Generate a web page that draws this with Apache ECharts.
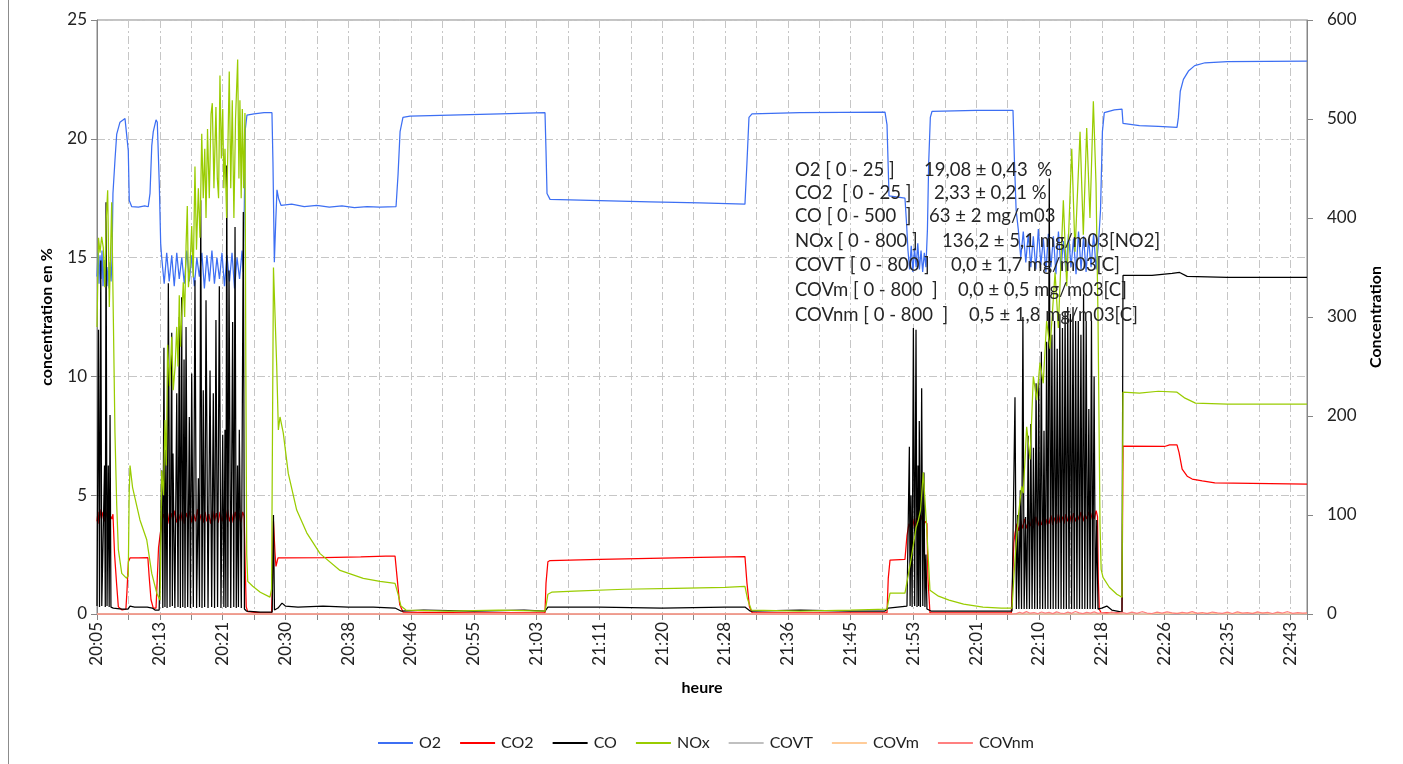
<!DOCTYPE html>
<html>
<head>
<meta charset="utf-8">
<script src="https://cdn.jsdelivr.net/npm/echarts@6/dist/echarts.min.js"></script>
<style>
  html, body { margin: 0; padding: 0; background: #ffffff; }
  #chart { width: 1403px; height: 764px; }
</style>
</head>
<body>
<div id="chart"></div>
<script>
// Time axis: seconds after 20:05:00 (one sample every 10 s); a label every 500 s
const timeLabels = ['20:05','20:13','20:21','20:30','20:38','20:46','20:55','21:03','21:11','21:20',
                    '21:28','21:36','21:45','21:53','22:01','22:10','22:18','22:26','22:35','22:43'];
const seriesNames = ['O2', 'CO2', 'CO', 'NOx', 'COVT', 'COVm', 'COVnm'];

// O2 in % (left axis)
const o2 = [
  [0,14.2],[8,15.2],[16,13.9],[24,15.1],[32,14.1],[40,15.3],[48,13.8],[56,14.9],[64,14.2],[72,15.1],[80,13.8],[88,14.6],[96,13.7],[104,14.8],[112,14.0],[120,15.0],
  [127,17.7],[143,19.1],[157,20.2],[183,20.7],[223,20.85],[236,20.8],[249,19.5],[257,17.4],[276,17.15],[330,17.12],[380,17.18],[408,17.14],[422,17.7],[436,19.7],[448,20.3],[470,20.8],[480,20.7],[496,18.1],[507,15.6],
  [515,15.0],[535,13.9],[555,15.2],[575,14.0],[595,15.1],[615,13.8],[635,15.2],[655,14.1],[675,15.0],[695,13.9],[715,15.3],[735,14.0],[755,15.1],[775,13.8],[795,15.0],[815,14.2],[835,15.2],[855,13.7],[875,15.1],[895,14.0],[915,15.3],[935,13.9],[955,15.0],[975,14.1],[995,15.2],[1015,13.8],[1035,15.1],[1055,14.0],[1075,15.2],[1095,13.7],[1115,15.0],[1135,14.1],[1155,15.3],[1165,14.4],
  [1173,17.2],[1181,20.4],[1194,21.0],[1250,21.05],[1330,21.1],[1393,21.1],[1401,19.0],[1412,14.8],[1423,16.5],[1433,17.85],[1445,17.5],[1465,17.2],[1550,17.25],[1650,17.15],[1750,17.2],[1850,17.12],[1950,17.18],[2050,17.1],[2150,17.15],[2250,17.12],[2381,17.15],
  [2397,18.5],[2413,20.3],[2436,20.9],[2492,20.95],[2811,21.0],[3209,21.05],[3567,21.1],[3575,19.5],[3583,17.7],[3607,17.45],[4005,17.4],[4403,17.35],[4801,17.3],[5159,17.25],[5175,19.0],[5191,20.9],[5215,21.05],[5597,21.1],[6274,21.12],
  [6290,20.6],[6306,17.6],[6433,17.5],[6445,16.5],[6457,15.3],[6470,14.5],[6483,15.5],[6496,14.4],[6509,15.4],[6522,14.6],[6535,15.6],[6548,14.5],[6561,15.3],[6574,14.4],[6587,15.2],[6600,14.6],[6612,16.2],[6622,19.0],[6635,20.9],[6648,21.15],[7000,21.2],[7293,21.2],
  [7305,19.0],[7318,17.0],[7335,16.2],[7355,15.0],[7375,16.1],[7395,14.8],[7415,16.0],[7435,14.6],[7455,15.9],[7475,14.5],[7495,16.2],[7515,14.7],[7535,15.8],[7555,14.4],[7575,16.0],[7595,14.6],[7615,15.9],[7635,14.3],[7655,16.1],[7675,14.5],[7695,15.7],[7715,14.4],[7735,16.0],[7755,14.6],[7775,15.8],[7795,14.3],[7815,16.1],[7835,14.5],[7855,15.9],[7875,14.4],[7895,15.8],[7915,14.6],[7935,16.0],[7955,14.5],[7975,15.7],
  [7990,17.0],[8005,20.3],[8020,21.1],[8100,21.22],[8161,21.25],[8169,20.65],[8300,20.55],[8450,20.52],[8599,20.48],[8610,20.9],[8625,22.0],[8650,22.5],[8690,22.85],[8740,23.08],[8822,23.2],[9000,23.25],[9634,23.27]
];

// CO2 in % (left axis)
const co2 = [
  [0,3.9],[8,4.3],[16,3.8],[24,4.4],[36,4.0],[48,4.3],[60,3.9],[72,4.1],[85,4.46],[98,3.9],[110,4.1],[119,4.0],[127,4.2],[140,2.5],[157,1.2],[170,0.3],[200,0.17],[230,0.2],
  [238,0.9],[250,2.2],[263,2.36],[330,2.36],[405,2.37],[415,1.6],[430,0.6],[448,0.25],[470,0.25],[480,1.5],[490,2.8],[502,3.3],[515,3.8],
  [530,4.2],[545,3.9],[560,4.3],[575,3.8],[590,4.25],[605,3.9],[620,4.35],[635,3.85],[650,4.2],[665,3.9],[680,4.3],[695,3.8],[710,4.25],[725,3.95],[740,4.35],[755,3.85],[770,4.2],[785,3.9],[800,4.4],[815,3.9],[830,4.2],[845,3.85],[860,4.3],[875,3.9],[890,4.2],[905,3.8],[920,4.35],[935,3.9],[950,4.25],[965,3.85],[980,4.3],[995,3.9],[1010,4.2],[1025,3.95],[1040,4.4],[1055,3.9],[1070,4.25],[1085,3.85],[1100,4.3],[1115,3.9],[1130,4.25],[1145,3.85],[1160,4.3],[1172,4.1],
  [1180,2.0],[1188,0.3],[1200,0.1],[1300,0.05],[1390,0.05],[1398,1.5],[1405,3.9],[1417,2.6],[1425,2.0],[1441,2.36],[1473,2.36],[1800,2.37],[2100,2.4],[2300,2.44],[2373,2.44],[2390,1.5],[2410,0.4],[2436,0.08],[3000,0.05],[3567,0.05],
  [3575,1.3],[3590,2.2],[3607,2.25],[4005,2.3],[4800,2.38],[5159,2.42],[5175,1.3],[5195,0.3],[5215,0.06],[6290,0.05],[6300,1.5],[6314,2.27],[6433,2.3],
  [6449,3.3],[6465,3.8],[6480,3.6],[6495,4.0],[6510,3.6],[6525,4.05],[6540,3.7],[6555,3.9],[6566,4.14],[6580,3.7],[6595,3.9],[6608,3.8],[6616,1.5],[6632,0.05],[7280,0.05],
  [7290,1.5],[7300,3.0],[7309,3.4],[7325,3.8],[7340,3.5],[7355,3.9],[7370,3.6],[7385,4.0],[7400,3.6],[7415,3.9],[7430,3.7],[7445,4.0],[7460,3.6],[7475,4.1],[7490,3.7],[7505,3.95],[7520,3.75],[7535,4.1],[7550,3.7],[7565,4.0],[7580,3.8],[7595,4.15],[7610,3.75],[7625,4.05],[7640,3.8],[7655,4.2],[7670,3.85],[7685,4.1],[7700,3.8],[7715,4.2],[7730,3.9],[7745,4.15],[7760,3.85],[7775,4.25],[7790,3.9],[7805,4.2],[7820,3.95],[7835,4.3],[7850,3.9],[7865,4.2],[7880,4.0],[7895,4.3],[7910,3.95],[7925,4.25],[7940,4.0],[7955,4.35],[7966,4.1],
  [7972,1.5],[7980,0.2],[7995,0.05],[8161,0.05],[8169,7.07],[8500,7.05],[8540,7.12],[8599,7.12],[8615,6.8],[8640,6.1],[8680,5.8],[8720,5.68],[8800,5.6],[8900,5.52],[9634,5.47]
];

// CO in mg/m03 (right axis)
const co = [
  [0,8],[12,287],[20,7],[30,357],[38,8],[50,6],[60,150],[66,7],[72,416],[80,8],[90,150],[97,7],[104,201],[111,7],[130,6],[200,5],[247,5],[263,8],[300,7],[400,7],[440,6],[462,4],[495,4],[507,6],
  [515,145],[524,6],[533,269],[541,7],[549,166],[558,6],[568,334],[581,7],[595,284],[600,8],[605,162],[620,6],[635,223],[645,7],[655,300],[664,6],[674,320],[683,7],[693,257],[701,6],[709,290],[722,7],[735,199],[744,6],[754,243],[767,7],[780,337],[793,6],[807,137],[816,7],[826,418],[836,6],[846,226],[857,7],[868,317],[884,6],[900,246],[913,7],[926,223],[936,6],[947,297],[960,7],[974,331],[987,6],[1001,181],[1010,7],[1019,186],[1026,6],[1033,453],[1042,7],[1051,347],[1065,6],[1080,295],[1089,7],[1099,391],[1109,6],[1119,150],[1126,7],[1133,186],[1149,6],[1165,406],[1174,5],
  [1190,3],[1300,2],[1395,2],[1405,100],[1413,4],[1441,6],[1473,11],[1500,8],[1600,7],[1800,8],[2000,7],[2200,7],[2373,6],[2420,3],[2600,4],[3000,3],[3400,4],[3567,3],[3590,7],[4000,7],[4500,6],[5000,7],[5159,7],[5200,3],[5600,4],[6000,3],[6274,3],[6300,6],[6449,8],
  [6468,169],[6474,8],[6481,120],[6490,7],[6500,289],[6510,8],[6521,287],[6529,7],[6537,150],[6542,8],[6547,195],[6556,7],[6566,228],[6575,8],[6584,143],[6592,7],[6600,60],[6608,5],[6640,3],[7000,3],[7285,3],
  [7309,219],[7320,5],[7330,100],[7340,5],[7351,125],[7361,5],[7372,300],[7382,5],[7393,98],[7403,5],[7414,180],[7424,5],[7435,192],[7445,5],[7456,168],[7466,5],[7477,233],[7487,5],[7498,237],[7508,5],[7519,265],[7529,5],[7540,185],[7550,5],[7561,275],[7571,5],[7582,440],[7592,5],[7603,282],[7613,5],[7624,296],[7634,5],[7645,268],[7655,5],[7666,303],[7676,5],[7687,289],[7697,5],[7708,306],[7718,5],[7729,310],[7739,5],[7750,303],[7760,5],[7771,310],[7781,5],[7792,296],[7802,5],[7813,296],[7823,5],[7834,282],[7844,5],[7855,323],[7865,5],[7876,296],[7886,5],[7897,207],[7907,5],[7918,296],[7928,5],[7939,240],[7949,5],[7960,95],[7970,5],
  [8000,6],[8040,8],[8080,4],[8161,2],[8169,342],[8400,342],[8560,344],[8620,345],[8680,341],[9000,340],[9634,340]
];

// NOx in mg/m03 [NO2] (right axis)
const nox = [
  [0,290],[12,380],[24,365],[37,381],[50,370],[62,330],[72,395],[85,428],[98,310],[117,416],[130,300],[143,183],[157,110],[170,65],[197,41],[236,36],[249,40],[256,120],[263,150],[283,128],[342,95],[396,75],[436,41],[476,21],[502,14],
  [515,145],[530,120],[541,196],[552,150],[562,272],[578,230],[595,280],[607,226],[622,250],[635,290],[645,250],[655,322],[665,270],[674,300],[687,335],[698,300],[709,372],[719,412],[728,330],[740,350],[754,392],[766,340],[780,452],[792,368],[807,430],[820,380],[834,485],[846,420],[858,470],[868,400],[880,490],[894,420],[908,505],[918,516],[931,430],[947,512],[958,440],[968,420],[979,544],[990,460],[1001,510],[1010,430],[1019,470],[1032,400],[1053,548],[1065,430],[1077,519],[1090,400],[1103,500],[1120,560],[1130,440],[1138,519],[1148,420],[1157,510],[1167,430],[1178,506],
  [1185,250],[1192,60],[1200,33],[1240,28],[1300,22],[1377,17],[1390,25],[1398,200],[1405,350],[1418,300],[1431,250],[1444,186],[1457,199],[1483,183],[1523,142],[1590,105],[1670,82],[1776,61],[1935,44],[2120,36],[2253,33],[2373,31],[2397,20],[2420,8],[2460,4],[2800,3],[3200,4],[3567,3],
  [3575,8],[3590,20],[3620,22],[3800,23],[4200,25],[4600,26],[5000,27],[5159,28],[5180,15],[5210,4],[5600,3],[6000,4],[6290,5],[6300,12],[6314,21],[6433,21],
  [6460,40],[6481,55],[6500,70],[6521,87],[6540,95],[6557,105],[6579,143],[6590,120],[6606,87],[6632,24],[6700,18],[6784,14],[6900,10],[7054,7],[7200,6],[7285,6],
  [7309,55],[7335,98],[7362,129],[7375,122],[7402,189],[7429,156],[7455,240],[7482,216],[7508,254],[7534,233],[7561,296],[7588,268],[7628,345],[7654,289],[7694,418],[7721,331],[7761,470],[7787,366],[7827,487],[7853,383],[7880,491],[7906,400],[7933,518],[7954,435],[7970,300],
  [7986,90],[7995,45],[8010,37],[8060,27],[8120,20],[8161,17],[8169,224],[8300,223],[8450,225],[8599,224],[8663,218],[8746,213],[9000,212],[9634,212]
];

// Volatile organic compounds in mg/m03[C] (right axis)
const covt = [[0,0],[9634,0]];
const covm = [[0,0],[8400,0],[8450,0.8],[8480,0.2],[8600,1.0],[8640,0.3],[8900,0.9],[8940,0.1],[9300,1.1],[9340,0.2],[9634,0.4]];
const covnm = [
  [0,0],[7290,0],[7300,1.2],[7320,0.4],[7345,1.8],[7370,0.6],[7400,2.4],[7430,0.8],[7460,1.5],[7490,0.3],[7520,2.0],[7550,0.9],[7580,1.6],[7610,0.4],[7640,2.2],[7670,1.0],[7700,0.5],[7730,1.9],[7760,0.7],[7790,2.5],[7820,1.1],[7850,0.3],[7880,1.7],[7910,0.8],[7940,2.1],[7970,0.6],
  [8000,1.4],[8040,0.5],[8080,2.0],[8120,0.9],[8160,1.6],[8200,0.4],[8240,1.8],[8280,0.7],[8320,2.3],[8360,1.0],[8400,0.5],[8440,1.9],[8480,0.8],[8520,2.2],[8560,1.2],[8600,0.4],[8640,1.7],[8680,0.9],[8720,2.4],[8760,0.6],[8800,1.5],[8840,0.3],[8880,2.0],[8920,1.1],[8960,0.7],
  [9000,1.8],[9040,0.5],[9080,2.1],[9120,0.9],[9160,1.4],[9200,0.4],[9240,2.2],[9280,0.8],[9320,1.6],[9360,0.5],[9400,1.9],[9440,1.0],[9480,2.3],[9520,0.6],[9560,1.5],[9600,0.8],[9634,1.2]
];

// Measurement summary printed inside the plot
const statLabels = ['O2 [ 0 - 25 ]', 'CO2  [ 0 - 25 ]', 'CO [ 0 - 500  ]', 'NOx [ 0 - 800 ]',
                    'COVT [ 0 - 800 ]', 'COVm [ 0 - 800  ]', 'COVnm [ 0 - 800  ]'];
const statValues = ['19,08 ± 0,43  %', '2,33 ± 0,21 %', '63 ± 2 mg/m03', '136,2 ± 5,1 mg/m03[NO2]',
                    '0,0 ± 1,7 mg/m03[C]', '0,0 ± 0,5 mg/m03[C]', '0,5 ± 1,8 mg/m03[C]'];

// ---- presentation ----
const FONT = 'Lato, "Open Sans", sans-serif';
const TEXT = '#222222';
const AXIS = '#868686';
const GRID_DASH = [8, 3, 2, 3];
const colors = ['#3d6ff3', '#ff0000', '#000000', '#99cc00', '#c0c0c0', '#ffcc99', '#ff8080'];
const seriesData = [o2, co2, co, nox, covt, covm, covnm];
const seriesAxis = [0, 0, 1, 1, 1, 1, 1];

const statLineY = [170, 193, 216.5, 241, 265.5, 290.5, 315];
const statValueX = [924, 934, 929, 942, 951, 958, 969];

const chart = echarts.init(document.getElementById('chart'), null, { renderer: 'canvas' });

const graphic = [
  { type: 'line', shape: { x1: 8.5, y1: 0, x2: 8.5, y2: 764 }, style: { stroke: '#8c8c8c', lineWidth: 1 } }
];
statLabels.forEach((s, i) => {
  graphic.push({ type: 'text', x: 795, y: statLineY[i], z: 100,
    style: { text: s, font: '18.5px ' + FONT, fill: '#262626', verticalAlign: 'middle' } });
  graphic.push({ type: 'text', x: statValueX[i], y: statLineY[i], z: 100,
    style: { text: statValues[i], font: '18.5px ' + FONT, fill: '#262626', verticalAlign: 'middle' } });
});

chart.setOption({
  animation: false,
  backgroundColor: '#ffffff',
  textStyle: { fontFamily: FONT },
  color: colors,
  grid: { left: 97, right: 96, top: 20, bottom: 150, show: true, borderColor: AXIS, borderWidth: 1 },
  xAxis: {
    type: 'value', min: 0, max: 9634, interval: 250,
    name: 'heure', nameLocation: 'middle', nameGap: 66,
    nameTextStyle: { fontWeight: 'bold', fontSize: 16, color: '#000', fontFamily: FONT },
    axisLine: { lineStyle: { color: AXIS } },
    axisTick: { length: 6, lineStyle: { color: AXIS } },
    axisLabel: { rotate: 90, margin: 8, fontSize: 17, color: TEXT, fontFamily: FONT,
      formatter: v => (v % 500 === 0 ? timeLabels[v / 500] : '') },
    splitLine: { show: true, lineStyle: { color: '#c6c6c6', type: GRID_DASH } }
  },
  yAxis: [
    {
      type: 'value', position: 'left', min: 0, max: 25, interval: 5,
      name: 'concentration en %', nameLocation: 'middle', nameGap: 42, nameRotate: 90,
      nameTextStyle: { fontWeight: 'bold', fontSize: 16, color: '#000', fontFamily: FONT },
      axisLine: { show: true, lineStyle: { color: AXIS } },
      axisTick: { show: true, length: 6, lineStyle: { color: AXIS } },
      axisLabel: { margin: 10, fontSize: 17, color: TEXT, fontFamily: FONT },
      splitLine: { show: true, lineStyle: { color: '#c6c6c6', type: GRID_DASH } }
    },
    {
      type: 'value', position: 'right', min: 0, max: 600, interval: 100,
      name: 'Concentration', nameLocation: 'middle', nameGap: 58, nameRotate: 90,
      nameTextStyle: { fontWeight: 'bold', fontSize: 16, color: '#000', fontFamily: FONT },
      axisLine: { show: true, lineStyle: { color: AXIS } },
      axisTick: { show: true, length: 6, lineStyle: { color: AXIS } },
      axisLabel: { margin: 20, fontSize: 17, color: TEXT, fontFamily: FONT },
      splitLine: { show: false }
    }
  ],
  legend: {
    left: 373, top: 730, itemWidth: 35, itemHeight: 2, itemGap: 19, icon: 'rect',
    data: seriesNames,
    textStyle: { fontSize: 16, color: TEXT, fontFamily: FONT, padding: [0, 0, 0, 1] }
  },
  series: seriesNames.map((name, i) => ({
    name, type: 'line', yAxisIndex: seriesAxis[i], data: seriesData[i],
    symbol: 'none', showSymbol: false, sampling: null,
    lineStyle: { width: 1.25, color: colors[i] }, itemStyle: { color: colors[i] }
  })),
  graphic
});
</script>
</body>
</html>
